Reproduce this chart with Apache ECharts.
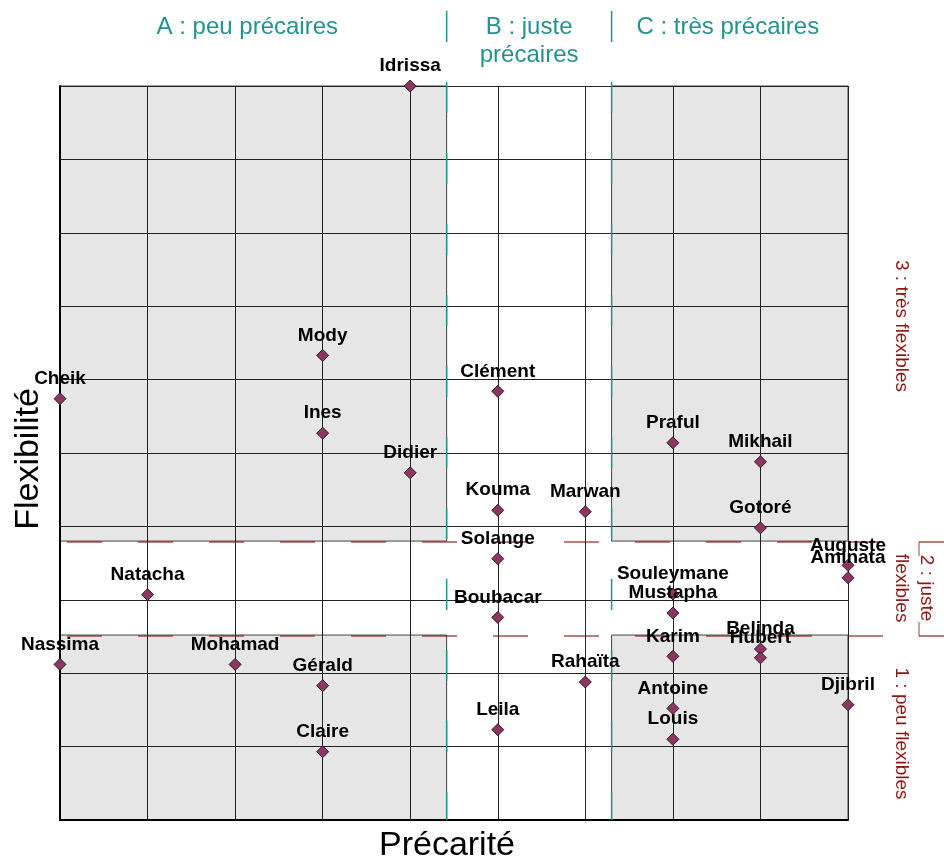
<!DOCTYPE html>
<html><head><meta charset="utf-8">
<script src="https://cdn.jsdelivr.net/npm/echarts@6/dist/echarts.min.js"></script>
<style>html,body{margin:0;padding:0;background:#fff}#c{width:944px;height:859px}</style>
</head><body><div id="c"></div>
<script>
// ---- data ----
const names = ['Idrissa','Cheik','Mody','Ines','Didier','Clément','Kouma','Marwan','Praful','Mikhail','Gotoré','Solange','Auguste','Aminata','Natacha','Souleymane','Mustapha','Boubacar','Nassima','Mohamad','Gérald','Claire','Leila','Rahaïta','Karim','Belinda','Hubert','Antoine','Louis','Djibril'];
const precarite = [4,0,3,3,4,5,5,6,7,8,8,5,9,9,1,7,7,5,0,2,3,3,5,6,7,8,8,7,7,9];
const flexibilite = [10,5.74,6.33,5.27,4.73,5.84,4.22,4.20,5.14,4.88,3.98,3.56,3.47,3.30,3.07,3.08,2.82,2.76,2.12,2.12,1.83,0.93,1.23,1.88,2.23,2.33,2.21,1.52,1.10,1.57];
const xRange = [0, 9];
const yRange = [0, 10];
const xBounds = [4.416, 6.30];   // A|B and B|C limits
const yBounds = [2.52, 3.80];    // 1|2 and 2|3 limits
const colLabels = ['A : peu précaires', 'B : juste\nprécaires', 'C : très précaires'];
const rowLabels = ['1 : peu flexibles', '2 : juste\nflexibles', '3 : très flexibles'];
const xTitle = 'Précarité';
const yTitle = 'Flexibilité';

const FONT = "'Liberation Sans', Arial, sans-serif";
const TEAL = '#24918f';
const RED = '#8b1414';
const GRAY = '#e6e6e6';

const chart = echarts.init(document.getElementById('c'));
const pts = names.map((n, i) => ({ name: n, value: [precarite[i], flexibilite[i]] }));

const areas = [
  [{ coord: [xRange[0], yBounds[1]] }, { coord: [xBounds[0], yRange[1]] }],
  [{ coord: [xBounds[1], yBounds[1]] }, { coord: [xRange[1], yRange[1]] }],
  [{ coord: [xRange[0], yRange[0]] }, { coord: [xBounds[0], yBounds[0]] }],
  [{ coord: [xBounds[1], yRange[0]] }, { coord: [xRange[1], yBounds[0]] }]
];

chart.setOption({
  animation: false,
  backgroundColor: '#fff',
  grid: { left: 60, right: 96, top: 86, bottom: 39, outerBoundsMode: 'none', containLabel: false },
  xAxis: {
    type: 'value', min: xRange[0], max: xRange[1], interval: 1, z: 3,
    name: xTitle, nameLocation: 'middle', nameGap: 9,
    nameTextStyle: { fontFamily: FONT, fontSize: 34, color: '#000', verticalAlign: 'top', padding: [0, 14, 0, 0] },
    axisLine: { show: true, onZero: false, lineStyle: { color: '#000', width: 2 } },
    axisTick: { show: false }, axisLabel: { show: false },
    splitLine: { show: true, lineStyle: { color: '#222', width: 1 } }
  },
  yAxis: {
    type: 'value', min: yRange[0], max: yRange[1], interval: 1, z: 3,
    name: yTitle, nameLocation: 'middle', nameGap: 14,
    nameTextStyle: { fontFamily: FONT, fontSize: 34, color: '#000', padding: [0, 12, 0, 0] },
    axisLine: { show: true, onZero: false, lineStyle: { color: '#000', width: 2 } },
    axisTick: { show: false }, axisLabel: { show: false },
    splitLine: { show: true, lineStyle: { color: '#222', width: 1 } }
  },
  series: [
    {
      type: 'scatter', z: 1, data: [], silent: true,
      markArea: {
        silent: true,
        itemStyle: { color: GRAY, borderColor: '#444', borderWidth: 1 },
        data: areas
      }
    },
    {
      type: 'scatter', z: 10, data: pts,
      symbol: 'diamond', symbolSize: 12,
      itemStyle: { color: '#8e3563', borderColor: '#222', borderWidth: 1, opacity: 1 },
      label: {
        show: true, position: 'top', distance: 4, formatter: '{b}',
        fontFamily: FONT, fontSize: 19, fontWeight: 'bold', color: '#000'
      }
    }
  ]
});

function px(x, y) { return chart.convertToPixel({ gridIndex: 0 }, [x, y]); }
const p00 = px(xRange[0], yRange[0]);
const p11 = px(xRange[1], yRange[1]);
const g = [];
// vertical teal separators
xBounds.forEach(xb => {
  const xp = px(xb, 0)[0];
  g.push({ type: 'line', z: 5, shape: { x1: xp, y1: 11, x2: xp, y2: p00[1] },
    style: { stroke: TEAL, lineWidth: 1.5, lineDash: [31, 40] } });
});
// horizontal red dashed separators
yBounds.forEach(yb => {
  const yp = px(0, yb)[1] + 1;
  g.push({ type: 'line', z: 5, shape: { x1: p00[0] + 7, y1: yp, x2: 944, y2: yp },
    style: { stroke: RED, lineWidth: 1.5, opacity: 0.75, lineDash: [35, 36] } });
});
// small bracket marks for middle row label
{
  const ya = px(0, yBounds[1])[1] + 1, yb = px(0, yBounds[0])[1] + 1;
  const xb = p11[0] + 71;
  g.push({ type: 'line', z: 5, shape: { x1: xb, y1: ya, x2: xb, y2: ya + 14 }, style: { stroke: RED, lineWidth: 1, opacity: 0.8 } });
  g.push({ type: 'line', z: 5, shape: { x1: xb, y1: yb - 14, x2: xb, y2: yb }, style: { stroke: RED, lineWidth: 1, opacity: 0.8 } });
}
// column labels
const colEdges = [xRange[0], xBounds[0], xBounds[1], xRange[1]];
const colShift = [-6, 0, -2];
colLabels.forEach((t, i) => {
  const cx = (px(colEdges[i], 0)[0] + px(colEdges[i + 1], 0)[0]) / 2 + colShift[i];
  g.push({ type: 'text', z: 6, x: cx, y: 13,
    style: { text: t, fill: TEAL, font: "24px " + FONT, align: 'center', textAlign: 'center', verticalAlign: 'top', textVerticalAlign: 'top', lineHeight: 28 } });
});
// row labels (rotated)
const rowCenters = [
  (px(0, yRange[0])[1] + px(0, yBounds[0])[1]) / 2 + 6,
  (px(0, yBounds[0])[1] + px(0, yBounds[1])[1]) / 2,
  px(0, 6.73)[1]
];
rowLabels.forEach((t, i) => {
  const twoLines = t.indexOf('\n') >= 0;
  g.push({ type: 'text', z: 6, x: p11[0] + (twoLines ? 66 : 53), y: rowCenters[i], rotation: -Math.PI / 2,
    style: { text: t, fill: RED, font: "19px " + FONT, align: 'center', textAlign: 'center', verticalAlign: 'middle', textVerticalAlign: 'middle', lineHeight: 25 } });
});
chart.setOption({ graphic: g });
</script>
</body></html>
